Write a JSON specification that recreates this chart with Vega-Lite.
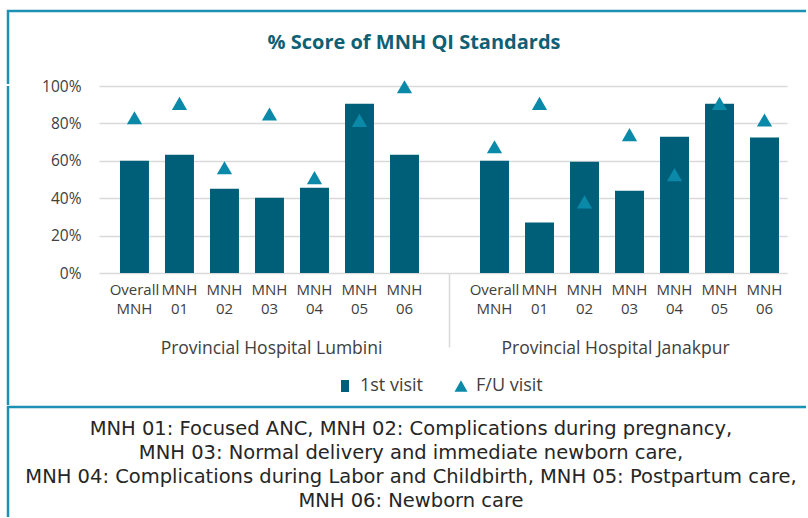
{
  "$schema": "https://vega.github.io/schema/vega-lite/v6.json",
  "background": "white",
  "padding": {"left": 6, "top": 9, "right": 0, "bottom": 0},
  "spacing": -8,
  "vconcat": [
    {
      "width": 798,
      "height": 73,
      "view": {"stroke": "#1D91B3", "strokeWidth": 2.5, "strokeDash": [798, 871, 73]},
      "data": {"values": [{"title": "% Score of MNH QI Standards"}]},
      "mark": {"type": "text", "font": "Open Sans", "fontSize": 20, "fontWeight": "bold", "color": "#0F5F75", "baseline": "alphabetic", "align": "center", "dx": 7, "dy": 1},
      "encoding": {"text": {"field": "title", "type": "nominal"}}
    },
    {
      "bounds": "flush",
      "spacing": 90,
      "hconcat": [
        {
          "width": 1,
          "height": 319,
          "view": {"stroke": "#1D91B3", "strokeWidth": 2.5, "strokeDash": [0, 321, 319]},
          "data": {"values": [{}]},
          "mark": {"type": "text", "text": ""},
          "encoding": {}
        },
        {
          "width": 688,
          "height": 187,
          "layer": [
            {
              "data": {
                "values": [
                  {"slot": "Lumbini|Overall MNH", "visit": "1st visit", "score": 0.60},
                  {"slot": "Lumbini|MNH 01", "visit": "1st visit", "score": 0.633},
                  {"slot": "Lumbini|MNH 02", "visit": "1st visit", "score": 0.45},
                  {"slot": "Lumbini|MNH 03", "visit": "1st visit", "score": 0.403},
                  {"slot": "Lumbini|MNH 04", "visit": "1st visit", "score": 0.456},
                  {"slot": "Lumbini|MNH 05", "visit": "1st visit", "score": 0.905},
                  {"slot": "Lumbini|MNH 06", "visit": "1st visit", "score": 0.633},
                  {"slot": "Janakpur|Overall MNH", "visit": "1st visit", "score": 0.60},
                  {"slot": "Janakpur|MNH 01", "visit": "1st visit", "score": 0.27},
                  {"slot": "Janakpur|MNH 02", "visit": "1st visit", "score": 0.595},
                  {"slot": "Janakpur|MNH 03", "visit": "1st visit", "score": 0.44},
                  {"slot": "Janakpur|MNH 04", "visit": "1st visit", "score": 0.729},
                  {"slot": "Janakpur|MNH 05", "visit": "1st visit", "score": 0.905},
                  {"slot": "Janakpur|MNH 06", "visit": "1st visit", "score": 0.724},
                  {"slot": "Lumbini|Overall MNH", "visit": "F/U visit", "score": 0.83},
                  {"slot": "Lumbini|MNH 01", "visit": "F/U visit", "score": 0.907},
                  {"slot": "Lumbini|MNH 02", "visit": "F/U visit", "score": 0.563},
                  {"slot": "Lumbini|MNH 03", "visit": "F/U visit", "score": 0.85},
                  {"slot": "Lumbini|MNH 04", "visit": "F/U visit", "score": 0.51},
                  {"slot": "Lumbini|MNH 05", "visit": "F/U visit", "score": 0.816},
                  {"slot": "Lumbini|MNH 06", "visit": "F/U visit", "score": 0.996},
                  {"slot": "Janakpur|Overall MNH", "visit": "F/U visit", "score": 0.675},
                  {"slot": "Janakpur|MNH 01", "visit": "F/U visit", "score": 0.907},
                  {"slot": "Janakpur|MNH 02", "visit": "F/U visit", "score": 0.38},
                  {"slot": "Janakpur|MNH 03", "visit": "F/U visit", "score": 0.74},
                  {"slot": "Janakpur|MNH 04", "visit": "F/U visit", "score": 0.526},
                  {"slot": "Janakpur|MNH 05", "visit": "F/U visit", "score": 0.907},
                  {"slot": "Janakpur|MNH 06", "visit": "F/U visit", "score": 0.818}
                ]
              },
              "encoding": {
                "x": {
                  "field": "slot",
                  "type": "nominal",
                  "sort": null,
                  "scale": {
                    "domain": [
                      "Lumbini|Overall MNH", "Lumbini|MNH 01", "Lumbini|MNH 02", "Lumbini|MNH 03", "Lumbini|MNH 04", "Lumbini|MNH 05", "Lumbini|MNH 06",
                      "gap",
                      "Janakpur|Overall MNH", "Janakpur|MNH 01", "Janakpur|MNH 02", "Janakpur|MNH 03", "Janakpur|MNH 04", "Janakpur|MNH 05", "Janakpur|MNH 06"
                    ],
                    "paddingInner": 0.356,
                    "paddingOuter": 0.322,
                    "align": 0.724
                  },
                  "axis": {
                    "title": null,
                    "domain": false,
                    "grid": false,
                    "labelAngle": 0,
                    "labelOverlap": false,
                    "labelExpr": "datum.value == 'gap' ? '' : split(split(datum.value, '|')[1], ' ')",
                    "labelLineHeight": 19,
                    "labelPadding": -65,
                    "labelFont": "Open Sans",
                    "labelFontSize": 15,
                    "labelColor": "#404040",
                    "ticks": true,
                    "tickBand": "center",
                    "tickSize": 74,
                    "tickWidth": 1.5,
                    "tickColor": "#D9D9D9",
                    "tickOpacity": {"condition": {"test": "datum.value === 'gap'", "value": 1}, "value": 0}
                  }
                },
                "y": {
                  "field": "score",
                  "type": "quantitative",
                  "scale": {"domain": [0, 1]},
                  "axis": {
                    "title": null,
                    "values": [0, 0.2, 0.4, 0.6, 0.8, 1],
                    "format": ".0%",
                    "domain": false,
                    "ticks": false,
                    "labelPadding": 18,
                    "labelFont": "Open Sans",
                    "labelFontSize": 15.5,
                    "labelColor": "#404040",
                    "gridColor": "#D9D9D9",
                    "gridWidth": 1.5
                  }
                },
                "color": {
                  "field": "visit",
                  "type": "nominal",
                  "scale": {"domain": ["1st visit", "F/U visit"], "range": ["#005F78", "#0A89A9"]},
                  "legend": {
                    "orient": "none",
                    "legendX": 328,
                    "legendY": 366,
                    "direction": "horizontal",
                    "title": null,
                    "labelFont": "Open Sans",
                    "labelFontSize": 18,
                    "labelColor": "#404040",
                    "symbolSize": 169,
                    "labelOffset": 6,
                    "columnPadding": 28
                  }
                }
              },
              "layer": [
                {
                  "transform": [{"filter": "datum.visit == '1st visit'"}],
                  "mark": {"type": "bar"}
                },
                {
                  "transform": [{"filter": "datum.visit == 'F/U visit'"}],
                  "mark": {"type": "point", "filled": true, "opacity": 1, "size": 230},
                  "encoding": {
                    "shape": {
                      "field": "visit",
                      "type": "nominal",
                      "scale": {"domain": ["1st visit", "F/U visit"], "range": ["M-0.62,-0.92H0.62V0.92H-0.62Z", "triangle-up"]},
                      "legend": {
                        "orient": "none",
                        "legendX": 328,
                        "legendY": 366,
                        "direction": "horizontal",
                        "title": null,
                        "labelFont": "Open Sans",
                        "labelFontSize": 18,
                        "labelColor": "#404040",
                        "symbolSize": 169,
                        "labelOffset": 6,
                        "columnPadding": 28
                      }
                    }
                  }
                }
              ]
            },
            {
              "data": {
                "values": [
                  {"hospital": "Provincial Hospital Lumbini"},
                  {"hospital": "Provincial Hospital Janakpur"}
                ]
              },
              "mark": {"type": "text", "text": ""},
              "encoding": {
                "x": {
                  "field": "hospital",
                  "type": "nominal",
                  "sort": null,
                  "scale": {
                    "domain": ["Provincial Hospital Lumbini", "Provincial Hospital Janakpur"],
                    "paddingInner": 0,
                    "paddingOuter": 0
                  },
                  "axis": {
                    "orient": "bottom",
                    "offset": 60,
                    "title": null,
                    "domain": false,
                    "ticks": false,
                    "grid": false,
                    "labelAngle": 0,
                    "labelOverlap": false,
                    "labelLimit": 400,
                    "labelPadding": 6,
                    "labelFont": "Open Sans",
                    "labelFontSize": 17.5,
                    "labelColor": "#404040"
                  }
                }
              }
            }
          ],
          "resolve": {"scale": {"x": "independent"}, "axis": {"x": "independent"}}
        }
      ]
    },
    {
      "width": 798,
      "height": 110,
      "view": {"stroke": "#1D91B3", "strokeWidth": 2.5, "strokeDash": [798, 908, 110]},
      "data": {
        "values": [
          {"line": 1, "text": "MNH 01: Focused ANC, MNH 02: Complications during pregnancy,"},
          {"line": 2, "text": "MNH 03: Normal delivery and immediate newborn care,"},
          {"line": 3, "text": "MNH 04: Complications during Labor and Childbirth, MNH 05: Postpartum care,"},
          {"line": 4, "text": "MNH 06: Newborn care"}
        ]
      },
      "mark": {"type": "text", "font": "DejaVu Sans", "fontSize": 19.5, "color": "#262626", "baseline": "middle", "align": "center", "dx": 4},
      "encoding": {
        "y": {"field": "line", "type": "ordinal", "axis": null, "scale": {"type": "point", "padding": 0.7917, "align": 0.579}},
        "text": {"field": "text", "type": "nominal"}
      }
    }
  ],
  "config": {
    "view": {"stroke": null},
    "font": "Open Sans"
  }
}
